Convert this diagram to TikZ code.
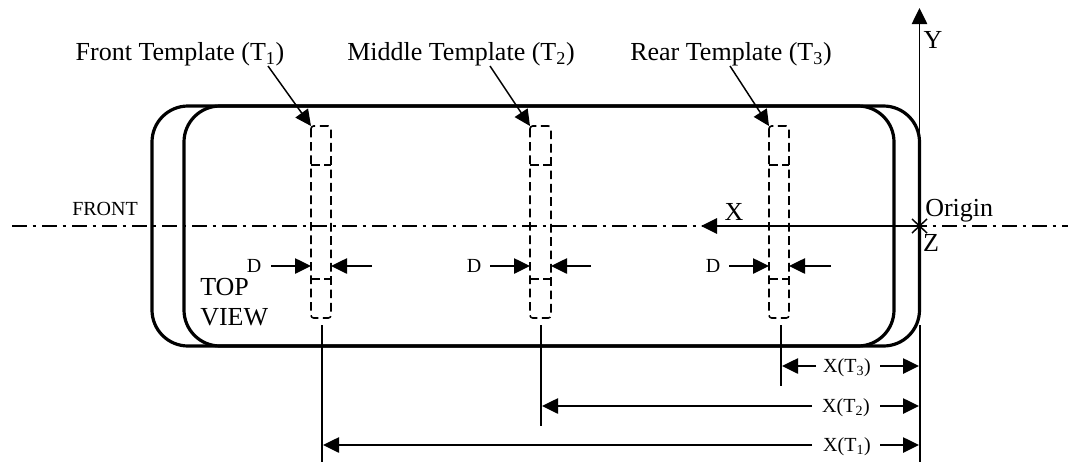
\documentclass[tikz,border=0pt]{standalone}
\usepackage{fontspec}
\setmainfont{Liberation Serif}
\usetikzlibrary{arrows.meta}
\tikzset{
	body/.style={line width=2.4pt, rounded corners=27pt},
	thin line/.style={line width=1.1pt},
	center line/.style={line width=1.1pt, dash pattern=on 11pt off 4.5pt on 2.5pt off 4.5pt},
	template/.style={line width=1.2pt, dash pattern=on 6.5pt off 3.5pt, rounded corners=2pt},
	template cut/.style={line width=1.2pt, dash pattern=on 6.5pt off 3.5pt},
	big/.style={font=\fontsize{19.5}{23}\selectfont, inner sep=0pt},
	small/.style={font=\fontsize{15}{18}\selectfont, inner sep=0pt},
}
\begin{document}
\begin{tikzpicture}[x=0.75pt, y=-0.75pt, line join=round, >={Triangle[length=12pt, width=11.5pt]}]
	\useasboundingbox (0,0) rectangle (1068,462);
	\coordinate (CL) at (12,226); \coordinate (CR) at (1068,226);
	\coordinate (O) at (919.5,226);
	\coordinate (Y) at (919.5,8);
	\coordinate (X) at (701,226);
	\coordinate (J1) at (311,126); \coordinate (K1) at (331,318);
	\coordinate (J2) at (530,126); \coordinate (K2) at (551,318);
	\coordinate (J3) at (769,126); \coordinate (K3) at (789,318);
	\coordinate (Q1) at (268,66); \coordinate (Q2) at (490,66); \coordinate (Q3) at (730,66);
	\coordinate (W1) at (322,325); \coordinate (V1) at (322,462);
	\coordinate (W2) at (541,325); \coordinate (V2) at (541,426);
	\coordinate (W3) at (781,325); \coordinate (V3) at (781,386);
	\coordinate (W0) at (920,325); \coordinate (V0) at (920,462);
	% body outlines
	\draw[center line] (CL)--(CR);
	\draw[body] (152,106) rectangle (919.5,346);
	\draw[body] (184,106) rectangle (894,346);
	% axes
	\draw[thin line,->] (O)--(Y);
	\draw[line width=1.5pt,->] (O)--(X);
	\draw[line width=1.1pt] (912,219)--(927,233) (927,219)--(912,233);
	% templates
	\draw[template] (J1) rectangle (K1);
	\draw[template] (J2) rectangle (K2);
	\draw[template] (J3) rectangle (K3);
	\draw[template cut] (311,165)--(331,165) (311,279)--(331,279);
	\draw[template cut] (530,165)--(551,165) (530,279)--(551,279);
	\draw[template cut] (769,165)--(789,165) (769,279)--(789,279);
	\draw[thin line,->] (Q1)--(J1);
	\draw[thin line,->] (Q2)--(J2);
	\draw[thin line,->] (Q3)--(J3);
	% width arrows
	\draw[thin line,->] (271,266)--(311,266); \draw[thin line,->] (372,266)--(331,266);
	\draw[thin line,->] (490,266)--(530,266); \draw[thin line,->] (591,266)--(551,266);
	\draw[thin line,->] (729,266)--(769,266); \draw[thin line,->] (831,266)--(789,266);
	% dimension lines
	\draw[thin line] (W1)--(V1); \draw[thin line] (W2)--(V2);
	\draw[thin line] (W3)--(V3); \draw[thin line] (W0)--(V0);
	\node[small] (DimC) at (847,368) {X(T\textsubscript{3})};
	\node[small] (DimB) at (846,408) {X(T\textsubscript{2})};
	\node[small] (DimA) at (847,447) {X(T\textsubscript{1})};
	\draw[thin line,->] (816,366)--(782,366); \draw[thin line,->] (880,366)--(919,366);
	\draw[thin line,->] (812,406)--(542,406); \draw[thin line,->] (880,406)--(919,406);
	\draw[thin line,->] (812,445)--(323,445); \draw[thin line,->] (880,445)--(919,445);
	% labels
	\node[big] (LabA) at (180,54) {Front Template (T\textsubscript{1})};
	\node[big] (LabB) at (461,54) {Middle Template (T\textsubscript{2})};
	\node[big] (LabC) at (731,54) {Rear Template (T\textsubscript{3})};
	\node[big] (LabY) at (933,40) {Y};
	\node[big] (LabX) at (734,212) {X};
	\node[big] (LabZ) at (931,243) {Z};
	\node[big,anchor=west] (LabO) at (925,211) {Origin};
	\node[small,anchor=west] (LabF) at (72,209) {FRONT};
	\node[big,anchor=west] (LabT) at (200,287) {TOP};
	\node[big,anchor=west] (LabV) at (200,317) {VIEW};
	\node[small] (LabD1) at (254,266) {D};
	\node[small] (LabD2) at (474,266) {D};
	\node[small] (LabD3) at (713,266) {D};
\end{tikzpicture}
\end{document}
